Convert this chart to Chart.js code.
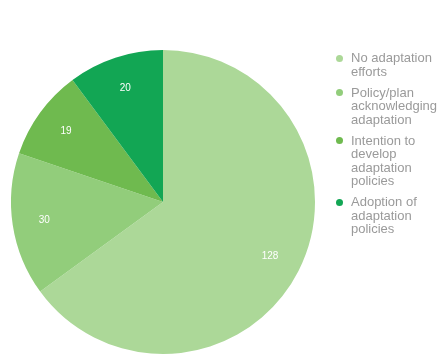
<!DOCTYPE html>
<html>
<head>
<meta charset="utf-8">
<script src="https://cdn.jsdelivr.net/npm/chart.js@4"></script>
<style>
html,body{margin:0;padding:0;background:#fff;overflow:hidden;}
#wrap{position:relative;width:440px;height:355px;overflow:hidden;}
#legend{position:absolute;left:333px;top:51px;width:130px;font-family:"Liberation Sans",Arial,sans-serif;font-size:13px;line-height:13.5px;color:#9a9a9a;}
.item{position:relative;padding-left:18px;margin-bottom:7.5px;white-space:nowrap;}
.dot{position:absolute;left:3px;top:3.5px;width:7px;height:7px;border-radius:50%;}
</style>
</head>
<body>
<div id="wrap">
<canvas id="c" width="440" height="355"></canvas>
<div id="legend"></div>
</div>
<script>
const categories = [
  ["No adaptation", "efforts"],
  ["Policy/plan", "acknowledging", "adaptation"],
  ["Intention to", "develop", "adaptation", "policies"],
  ["Adoption of", "adaptation", "policies"]
];
const values = [128, 30, 19, 20];
const colors = ["#acd898", "#92cd7b", "#6fba4f", "#12a654"];

const legend = document.getElementById('legend');
categories.forEach((lines, i) => {
  const d = document.createElement('div');
  d.className = 'item';
  const dot = document.createElement('span');
  dot.className = 'dot';
  dot.style.background = colors[i];
  d.appendChild(dot);
  lines.forEach((t, j) => {
    if (j) d.appendChild(document.createElement('br'));
    d.appendChild(document.createTextNode(t));
  });
  legend.appendChild(d);
});

const labelPlugin = {
  id: 'sliceLabels',
  afterDatasetsDraw(chart) {
    const ctx = chart.ctx;
    const meta = chart.getDatasetMeta(0);
    ctx.save();
    ctx.fillStyle = '#ffffff';
    ctx.font = '10px "Liberation Sans", Arial, sans-serif';
    ctx.textAlign = 'center';
    ctx.textBaseline = 'middle';
    meta.data.forEach((arc, i) => {
      const p = arc.getProps(['x','y','startAngle','endAngle','outerRadius'], true);
      const mid = (p.startAngle + p.endAngle) / 2;
      const r = p.outerRadius * 0.79;
      ctx.fillText(String(chart.data.datasets[0].data[i]), p.x + Math.cos(mid) * r, p.y + Math.sin(mid) * r);
    });
    ctx.restore();
  }
};

new Chart(document.getElementById('c'), {
  type: 'pie',
  data: {
    labels: categories.map(l => l.join(' ')),
    datasets: [{
      data: values,
      backgroundColor: colors,
      borderWidth: 0
    }]
  },
  options: {
    responsive: false,
    animation: false,
    layout: { padding: { left: 11, right: 125, top: 50, bottom: 1 } },
    plugins: {
      legend: { display: false },
      tooltip: { enabled: false }
    }
  },
  plugins: [labelPlugin]
});
</script>
</body>
</html>
